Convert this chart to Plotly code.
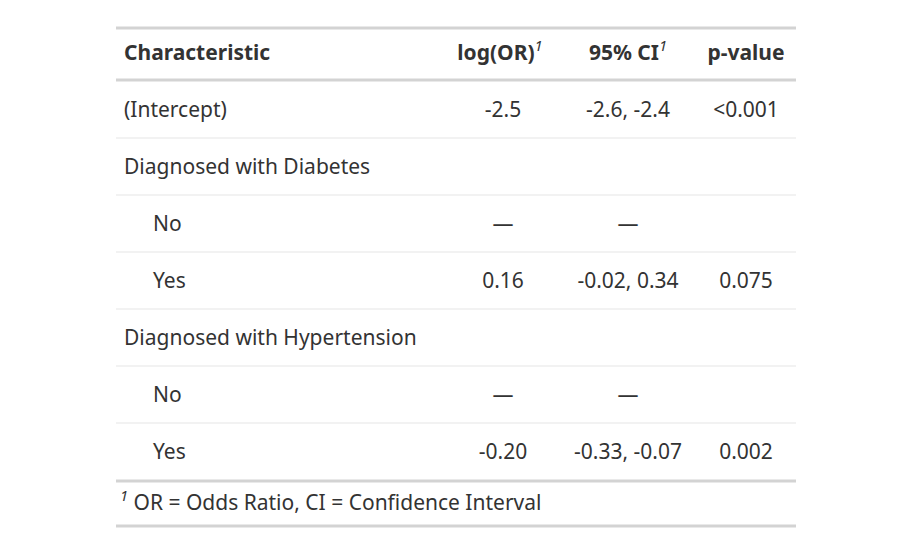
import plotly.graph_objects as go

labels = ["(Intercept)", "Diagnosed with Diabetes", "No", "Yes",
          "Diagnosed with Hypertension", "No", "Yes"]
indent = [False, False, True, True, False, True, True]
log_or = ["-2.5", "", "—", "0.16", "", "—", "-0.20"]
ci = ["-2.6, -2.4", "", "—", "-0.02, 0.34", "", "—", "-0.33, -0.07"]
pval = ["<0.001", "", "", "0.075", "", "", "0.002"]
headers = ["<b>Characteristic</b>", "<b>log(OR)</b><sup><i>1</i></sup>",
           "<b>95% CI</b><sup><i>1</i></sup>", "<b>p-value</b>"]
footnote = "<sup><i>1</i></sup> OR = Odds Ratio, CI = Confidence Interval"

# page is drawn with an 8px body margin, so shift everything by 8px
dx, dy = -8, -8
font = dict(family="Noto Sans", size=21, color="#333333")
row_y = [112 + dy + 57 * i for i in range(len(labels))]

fig = go.Figure()
fig.add_trace(go.Scatter(x=[(153 if i else 124) + dx for i in indent], y=row_y, text=labels,
                         mode="text", textposition="middle right", textfont=font))
fig.add_trace(go.Scatter(x=[503 + dx] * len(labels), y=row_y, text=log_or, mode="text", textfont=font))
fig.add_trace(go.Scatter(x=[628 + dx] * len(labels), y=row_y, text=ci, mode="text", textfont=font))
fig.add_trace(go.Scatter(x=[746 + dx] * len(labels), y=row_y, text=pval, mode="text", textfont=font))
fig.add_trace(go.Scatter(x=[124 + dx, 500 + dx, 628 + dx, 746 + dx], y=[55 + dy] * 4, text=headers,
                         mode="text",
                         textposition=["middle right", "middle center", "middle center", "middle center"],
                         textfont=font))
fig.add_trace(go.Scatter(x=[120 + dx], y=[505 + dy], text=[footnote], mode="text",
                         textposition="middle right", textfont=font))

for y in [28, 80, 481, 526]:
    fig.add_shape(type="line", x0=116 + dx, x1=796 + dx, y0=y + dy, y1=y + dy,
                  line=dict(color="#d3d3d3", width=3))
for y in row_y[:-1]:
    fig.add_shape(type="line", x0=116 + dx, x1=796 + dx, y0=y + 26, y1=y + 26,
                  line=dict(color="#e5e5e5", width=1))

fig.update_layout(width=908, height=558, margin=dict(l=0, r=0, t=0, b=0),
                  plot_bgcolor="white", paper_bgcolor="white", showlegend=False,
                  xaxis=dict(range=[0, 908], visible=False, fixedrange=True),
                  yaxis=dict(range=[558, 0], visible=False, fixedrange=True))
fig.write_html("out.html")
